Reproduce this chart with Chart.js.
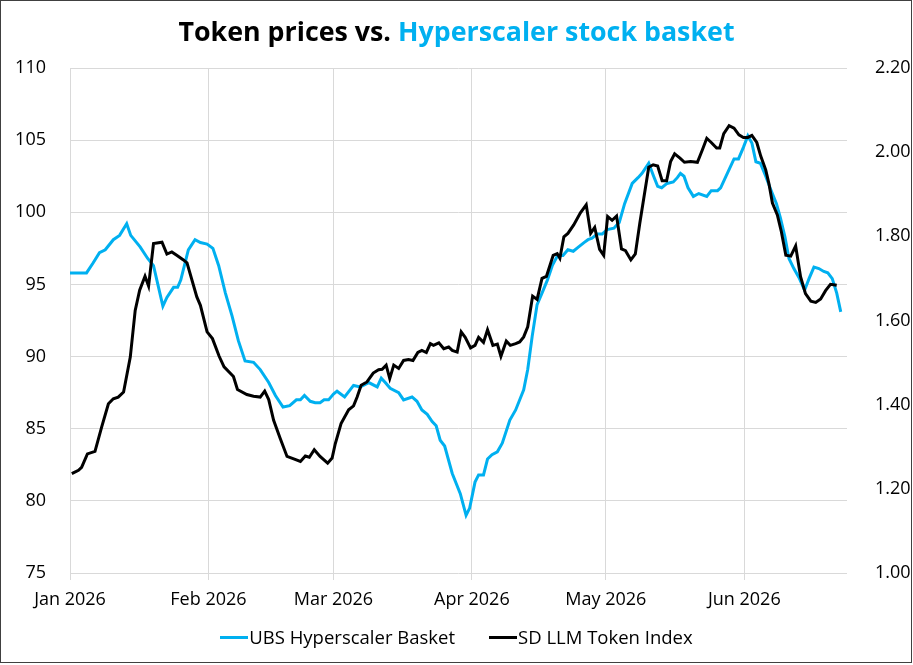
<!DOCTYPE html>
<html>
<head>
<meta charset="utf-8">
<script src="https://cdn.jsdelivr.net/npm/chart.js@4.4.1/dist/chart.umd.min.js"></script>
<style>
  html, body { margin: 0; padding: 0; background: #fff; }
  #wrap { position: relative; width: 913px; height: 665px; font-family: "Open Sans", sans-serif; }
  #grafico { position: absolute; left: 0; top: 0; }
  #titulo { position: absolute; left: 0; top: 15px; width: 913px; text-align: center; font-weight: bold; font-size: 26.8px; line-height: 32px; color: #000; }
  #titulo span { color: #00b0f0; }
  #legenda { position: absolute; left: 0; top: 626px; width: 913px; display: flex; justify-content: center; font-size: 18.5px; line-height: 22px; color: #000; }
  .item { display: flex; align-items: center; margin: 0 17px; }
  .linha { width: 28px; height: 3px; margin-right: 1px; }
</style>
</head>
<body>
<div id="wrap">
  <canvas id="grafico" width="913" height="665"></canvas>
  <div id="titulo">Token prices vs. <span>Hyperscaler stock basket</span></div>
  <div id="legenda">
    <div class="item"><div class="linha" style="background:#00b0f0"></div>UBS Hyperscaler Basket</div>
    <div class="item"><div class="linha" style="background:#000"></div>SD LLM Token Index</div>
  </div>
</div>
<script>
// dias contados a partir de 1 jan 2026
const inicioMeses = [0, 31, 59, 90, 120, 151];
const rotulosMeses = ["Jan 2026", "Feb 2026", "Mar 2026", "Apr 2026", "May 2026", "Jun 2026"];

const diasCesta = [
  0, 3.7, 5.2, 6.6, 7.9, 9.7, 11.1, 12.7, 13.6, 15.7, 17.4, 18.7, 20.8, 21.7, 23.2, 24.1, 24.8, 26.5, 28, 29.2,
  30.7, 32, 33.3, 34.8, 36.3, 37.7, 39.2, 41.1, 42.6, 44.5, 46, 47.7, 49.2, 50.7, 51.6, 52.5, 53.8, 54.9, 56, 56.9,
  57.9, 59, 59.8, 61.5, 63.5, 65, 66.9, 68.8, 69.7, 70.6, 71.7, 73.6, 74.7, 76.6, 77.7, 78.8, 80, 81.1, 82, 82.9,
  83.9, 85.6, 87.4, 88.7, 89.5, 90.7, 91.5, 92.6, 93.5, 94.5, 95.7, 96.8, 98.5, 99.8, 101.6, 102.5, 103.5, 104.6, 105.7, 106.9,
  108, 109.2, 110.4, 111.5, 112.7, 113.9, 115.1, 116, 116.9, 118.1, 119.2, 120.3, 121.8, 123, 124.2, 125.9, 127.2, 128.1, 129.6, 130.7,
  131.6, 132.5, 133.7, 135.1, 136, 136.7, 137.5, 138.4, 139.6, 140.8, 142.6, 143.6, 145, 145.7, 147.2, 148.7, 149.7, 150.8, 151.8, 152.7,
  153.6, 154.6, 155.8, 156.9, 158.2, 159.1, 160.1, 161, 162.1, 163.2, 164.5, 165.5, 166.6, 167.7, 168.8, 169.7, 170.7, 171.7, 172.6
];
const valoresCesta = [
  95.8, 95.8, 96.5, 97.2, 97.4, 98.1, 98.4, 99.2, 98.4, 97.6, 96.8, 96.3, 93.5, 94.1, 94.8, 94.8, 95.3, 97.4, 98.1, 97.9,
  97.8, 97.5, 96.3, 94.4, 92.8, 91.1, 89.7, 89.6, 89.1, 88.2, 87.3, 86.5, 86.6, 87.0, 87.0, 87.3, 86.9, 86.8, 86.8, 87.0,
  87.0, 87.4, 87.6, 87.2, 88.0, 87.9, 88.2, 87.9, 88.5, 88.2, 87.8, 87.5, 87.0, 87.2, 86.9, 86.3, 86.0, 85.5, 85.2, 84.2,
  83.8, 81.9, 80.5, 79.0, 79.5, 81.3, 81.8, 81.8, 82.9, 83.2, 83.4, 84.0, 85.6, 86.3, 87.7, 89.1, 91.4, 93.6, 94.4, 95.3,
  96.3, 97.0, 97.0, 97.4, 97.3, 97.6, 97.9, 98.1, 98.2, 98.5, 98.5, 98.8, 98.9, 99.3, 100.6, 102.0, 102.4, 102.7, 103.4, 102.5,
  101.8, 101.7, 102.0, 102.1, 102.4, 102.7, 102.5, 101.7, 101.1, 101.3, 101.1, 101.5, 101.5, 101.7, 102.7, 103.7, 103.7, 104.5, 105.3, 104.8,
  103.5, 103.4, 102.5, 101.6, 100.6, 99.6, 98.3, 96.8, 96.1, 95.5, 94.6, 95.4, 96.2, 96.1, 95.9, 95.8, 95.4, 94.4, 93.1
];

const diasToken = [
  0.4, 1.9, 2.6, 3.9, 5.6, 7.1, 8.6, 9.7, 10.8, 12, 13.5, 14.6, 15.6, 16.8, 17.6, 18.7, 20.6, 21.7, 22.8, 23.9,
  25.4, 26.2, 28.4, 29.2, 30.7, 31.9, 33.4, 34.5, 36.6, 37.5, 39.6, 41.1, 42.6, 43.6, 44.5, 45.6, 47.1, 48.6, 50.1, 51.6,
  52.7, 53.6, 54.7, 56, 57.7, 58.7, 59.4, 60.7, 62.4, 63.5, 64.3, 65.2, 66.5, 67.9, 69.1, 69.9, 70.8, 71.6, 72.5, 73.6,
  74.7, 75.8, 76.8, 77.9, 78.8, 79.8, 80.7, 81.4, 82.6, 83.7, 84.8, 85.6, 86.7, 87.6, 88.5, 89.7, 90.7, 91.5, 92.6, 93.5,
  94.7, 95.7, 96.5, 97.7, 98.6, 99.8, 100.7, 101.6, 102.5, 103.6, 104.6, 105.7, 106.7, 108.2, 109.1, 109.7, 110.6, 111.5, 112.8, 114.3,
  115.6, 116.6, 117.5, 118.6, 119.5, 120.4, 121.4, 122.4, 123.5, 124.4, 125.6, 126.6, 127.6, 128.5, 129.6, 130.6, 131.6, 132.6, 133.6, 134.5,
  135.4, 136.6, 137.6, 139, 140.5, 141.6, 142.6, 143.6, 144.8, 145.5, 146.4, 147.6, 148.7, 149.8, 150.8, 151.8, 152.7, 153.8, 154.7, 155.8,
  156.5, 157.3, 158.4, 159.3, 160.3, 161.4, 162.5, 163.6, 164.7, 165.9, 167, 168.1, 169.2, 170.3, 171.7
];
const valoresToken = [
  1.236, 1.244, 1.251, 1.283, 1.289, 1.347, 1.402, 1.414, 1.418, 1.430, 1.513, 1.624, 1.672, 1.705, 1.682, 1.783, 1.786, 1.758, 1.763, 1.755,
  1.744, 1.737, 1.656, 1.636, 1.573, 1.557, 1.515, 1.490, 1.467, 1.436, 1.424, 1.420, 1.418, 1.432, 1.412, 1.363, 1.319, 1.277, 1.271, 1.265,
  1.278, 1.275, 1.293, 1.277, 1.261, 1.273, 1.307, 1.355, 1.388, 1.397, 1.418, 1.446, 1.454, 1.475, 1.483, 1.484, 1.494, 1.462, 1.494, 1.486,
  1.505, 1.507, 1.505, 1.524, 1.529, 1.524, 1.545, 1.541, 1.547, 1.533, 1.537, 1.529, 1.525, 1.573, 1.560, 1.535, 1.541, 1.560, 1.548, 1.578,
  1.541, 1.544, 1.515, 1.551, 1.541, 1.545, 1.549, 1.561, 1.585, 1.658, 1.650, 1.700, 1.705, 1.755, 1.759, 1.748, 1.799, 1.807, 1.827, 1.856,
  1.875, 1.807, 1.821, 1.769, 1.755, 1.847, 1.838, 1.848, 1.770, 1.766, 1.744, 1.758, 1.831, 1.891, 1.964, 1.970, 1.967, 1.932, 1.932, 1.978,
  1.996, 1.986, 1.976, 1.978, 1.976, 2.005, 2.033, 2.023, 2.010, 2.010, 2.044, 2.063, 2.057, 2.041, 2.035, 2.035, 2.040, 2.023, 1.990, 1.958,
  1.926, 1.879, 1.851, 1.811, 1.755, 1.753, 1.777, 1.704, 1.664, 1.646, 1.643, 1.651, 1.671, 1.686, 1.684
];

const fonteEixo = { family: "Open Sans", size: 18 };

const moldura = {
  id: "moldura",
  afterDraw(chart) {
    const ctx = chart.ctx;
    ctx.save();
    ctx.strokeStyle = "#404040";
    ctx.lineWidth = 1;
    ctx.strokeRect(0.5, 0.5, 911, 662);
    ctx.restore();
  }
};

const ctx = document.getElementById("grafico").getContext("2d");

new Chart(ctx, {
  type: "line",
  data: {
    datasets: [
      {
        label: "SD LLM Token Index",
        data: diasToken.map((d, i) => ({ x: d, y: valoresToken[i] })),
        yAxisID: "yDir",
        borderColor: "#000000",
        borderWidth: 3,
        pointRadius: 0,
        tension: 0
      },
      {
        label: "UBS Hyperscaler Basket",
        data: diasCesta.map((d, i) => ({ x: d, y: valoresCesta[i] })),
        yAxisID: "yEsq",
        borderColor: "#00b0f0",
        borderWidth: 3,
        pointRadius: 0,
        tension: 0
      }
    ]
  },
  options: {
    responsive: false,
    animation: false,
    layout: { padding: { top: 68, bottom: 52, left: 0, right: 0 } },
    plugins: {
      legend: { display: false },
      title: { display: false },
      tooltip: { enabled: false }
    },
    scales: {
      x: {
        type: "linear",
        min: 0,
        max: 174,
        afterBuildTicks: axis => { axis.ticks = inicioMeses.map(v => ({ value: v })); },
        afterFit: axis => { axis.height = 40; },
        ticks: {
          font: fonteEixo,
          color: "#000",
          padding: 9,
          maxRotation: 0,
          callback: v => rotulosMeses[inicioMeses.indexOf(v)]
        },
        grid: { color: "#d9d9d9", lineWidth: 1, tickLength: 7 },
        border: { display: false }
      },
      yEsq: {
        position: "left",
        min: 75,
        max: 110,
        afterFit: axis => { axis.width = 70; },
        ticks: { stepSize: 5, font: fonteEixo, color: "#000", padding: 24 },
        grid: { color: "#d9d9d9", lineWidth: 1, drawTicks: false },
        border: { display: false }
      },
      yDir: {
        position: "right",
        min: 1,
        max: 2.2,
        afterFit: axis => { axis.width = 66; },
        ticks: { stepSize: 0.2, font: fonteEixo, color: "#000", padding: 20, callback: v => v.toFixed(2) },
        grid: { display: false },
        border: { display: false }
      }
    }
  },
  plugins: [moldura]
});
</script>
</body>
</html>
